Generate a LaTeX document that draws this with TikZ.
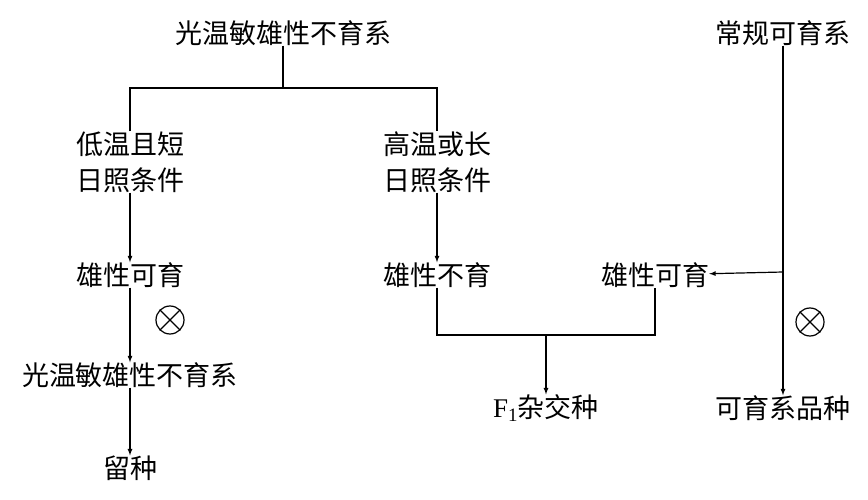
\documentclass[tikz,border=0pt]{standalone}
\usepackage{fontspec}
\setmainfont{Liberation Serif}
\newfontfamily\cjk{Noto Sans CJK SC}
\begin{document}
\begin{tikzpicture}[x=1pt,y=-1pt,
    every node/.style={font=\cjk\fontsize{27}{36}\selectfont, inner sep=0pt, align=center},
    line/.style={line width=1.2pt},
    arr/.style={line width=1.2pt,-latex}]
    \useasboundingbox (0,0) rectangle (868,500);
    \node (top)   at (283,33)  {光温敏雄性不育系};
    \node (conv)  at (783,33)  {常规可育系};
    \node (low)   at (130,162) {低温且短\\日照条件};
    \node (high)  at (437,162) {高温或长\\日照条件};
    \node (fert)  at (130,275) {雄性可育};
    \node (ster)  at (437,275) {雄性不育};
    \node (fert2) at (655,275) {雄性可育};
    \node (pgms)  at (130,375) {光温敏雄性不育系};
    \node (seed)  at (130,468) {留种};
    \node (hyb)   at (546,408) {{\rmfamily F\textsubscript{1}}杂交种};
    \node (var)   at (783,408) {可育系品种};
    \coordinate (split) at (283,88);
    \coordinate (join)  at (546,335);
    \coordinate (fork)  at (783,272);

    \draw[line] (top.south) -- (split);
    \draw[line] (low.north) |- (split) -| (high.north);
    \draw[arr] (low) -- (fert);
    \draw[arr] (high) -- (ster);
    \draw[arr] (fert) -- (pgms);
    \draw[arr] (pgms) -- (seed);
    \draw[line] (ster.south) |- (join) -| (fert2.south);
    \draw[arr] (join) -- (hyb);
    \draw[arr] (conv) -- (var);
    \draw[arr] (fork) -- (fert2);
    % selfing marks
    \foreach \p/\n in {{(170,320)}/selfa, {(810,322)}/selfb}
      \node[draw, circle, line width=1.2pt, minimum size=28pt] (\n) at \p {};
    \foreach \n in {selfa, selfb} {
      \draw[line] (\n.45) -- (\n.225);
      \draw[line] (\n.135) -- (\n.315);
    }
\end{tikzpicture}
\end{document}
